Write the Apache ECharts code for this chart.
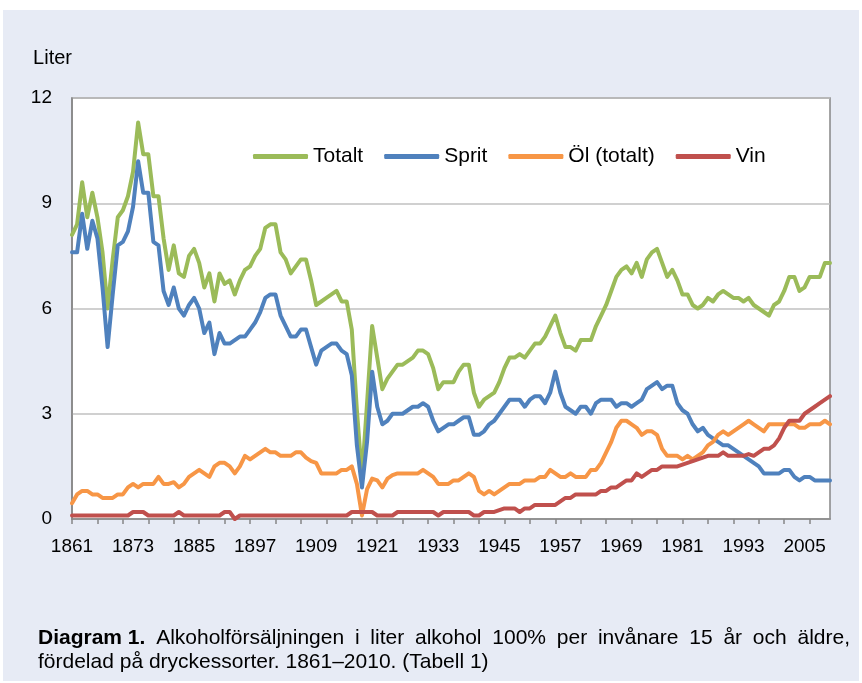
<!DOCTYPE html>
<html>
<head>
<meta charset="utf-8">
<script src="https://cdn.jsdelivr.net/npm/echarts@6/dist/echarts.min.js"></script>
<style>
  body { margin: 0; background: #fff; }
  #panel { position: absolute; left: 3px; top: 10px; width: 856px; height: 671px; background: #e7ebf5; }
  #chart { position: absolute; left: 0; top: 0; width: 862px; height: 683px; }
</style>
</head>
<body>
<div id="panel"></div>
<div id="chart"></div>
<script>
// år 1861-2010
const firstYear = 1861, lastYear = 2010;
const years = [];
for (let y = firstYear; y <= lastYear; y++) years.push(String(y));

// liter ren alkohol per invånare 15+
const totalt = [
  8.1, 8.4, 9.6, 8.6, 9.3, 8.6, 7.6, 6.0, 7.4, 8.6,
  8.8, 9.2, 9.9, 11.3, 10.4, 10.4, 9.2, 9.2, 8.0, 7.1,
  7.8, 7.0, 6.9, 7.5, 7.7, 7.3, 6.6, 7.0, 6.2, 7.0,
  6.7, 6.8, 6.4, 6.8, 7.1, 7.2, 7.5, 7.7, 8.3, 8.4,
  8.4, 7.6, 7.4, 7.0, 7.2, 7.4, 7.4, 6.8, 6.1, 6.2,
  6.3, 6.4, 6.5, 6.2, 6.2, 5.4, 3.1, 1.2, 3.3, 5.5,
  4.6, 3.7, 4.0, 4.2, 4.4, 4.4, 4.5, 4.6, 4.8, 4.8,
  4.7, 4.3, 3.7, 3.9, 3.9, 3.9, 4.2, 4.4, 4.4, 3.6,
  3.2, 3.4, 3.5, 3.6, 3.9, 4.3, 4.6, 4.6, 4.7, 4.6,
  4.8, 5.0, 5.0, 5.2, 5.5, 5.8, 5.3, 4.9, 4.9, 4.8,
  5.1, 5.1, 5.1, 5.5, 5.8, 6.1, 6.5, 6.9, 7.1, 7.2,
  7.0, 7.3, 6.9, 7.4, 7.6, 7.7, 7.3, 6.9, 7.1, 6.8,
  6.4, 6.4, 6.1, 6.0, 6.1, 6.3, 6.2, 6.4, 6.5, 6.4,
  6.3, 6.3, 6.2, 6.3, 6.1, 6.0, 5.9, 5.8, 6.1, 6.2,
  6.5, 6.9, 6.9, 6.5, 6.6, 6.9, 6.9, 6.9, 7.3, 7.3
];
const sprit = [
  7.6, 7.6, 8.7, 7.7, 8.5, 8.0, 6.6, 4.9, 6.4, 7.8,
  7.9, 8.2, 8.9, 10.2, 9.3, 9.3, 7.9, 7.8, 6.5, 6.1,
  6.6, 6.0, 5.8, 6.1, 6.3, 6.0, 5.3, 5.6, 4.7, 5.3,
  5.0, 5.0, 5.1, 5.2, 5.2, 5.4, 5.6, 5.9, 6.3, 6.4,
  6.4, 5.8, 5.5, 5.2, 5.2, 5.4, 5.4, 4.9, 4.4, 4.8,
  4.9, 5.0, 5.0, 4.8, 4.7, 4.1, 2.1, 0.9, 2.2, 4.2,
  3.2, 2.7, 2.8, 3.0, 3.0, 3.0, 3.1, 3.2, 3.2, 3.3,
  3.2, 2.8, 2.5, 2.6, 2.7, 2.7, 2.8, 2.9, 2.9, 2.4,
  2.4, 2.5, 2.7, 2.8, 3.0, 3.2, 3.4, 3.4, 3.4, 3.2,
  3.4, 3.5, 3.5, 3.3, 3.6, 4.2, 3.6, 3.2, 3.1, 3.0,
  3.2, 3.2, 3.0, 3.3, 3.4, 3.4, 3.4, 3.2, 3.3, 3.3,
  3.2, 3.3, 3.4, 3.7, 3.8, 3.9, 3.7, 3.8, 3.8, 3.3,
  3.1, 3.0, 2.7, 2.5, 2.6, 2.4, 2.3, 2.2, 2.1, 2.1,
  2.0, 1.9, 1.8, 1.7, 1.6, 1.5, 1.3, 1.3, 1.3, 1.3,
  1.4, 1.4, 1.2, 1.1, 1.2, 1.2, 1.1, 1.1, 1.1, 1.1
];
const ol = [
  0.45, 0.7, 0.8, 0.8, 0.7, 0.7, 0.6, 0.6, 0.6, 0.7,
  0.7, 0.9, 1.0, 0.9, 1.0, 1.0, 1.0, 1.2, 1.0, 1.0,
  1.05, 0.9, 1.0, 1.2, 1.3, 1.4, 1.3, 1.2, 1.5, 1.6,
  1.6, 1.5, 1.3, 1.5, 1.8, 1.7, 1.8, 1.9, 2.0, 1.9,
  1.9, 1.8, 1.8, 1.8, 1.9, 1.9, 1.75, 1.65, 1.6, 1.3,
  1.3, 1.3, 1.3, 1.4, 1.4, 1.5, 1.0, 0.1, 0.85, 1.15,
  1.1, 0.9, 1.15, 1.25, 1.3, 1.3, 1.3, 1.3, 1.3, 1.4,
  1.3, 1.2, 1.0, 1.0, 1.0, 1.1, 1.1, 1.2, 1.3, 1.2,
  0.8, 0.7, 0.8, 0.7, 0.8, 0.9, 1.0, 1.0, 1.0, 1.1,
  1.1, 1.1, 1.2, 1.2, 1.4, 1.3, 1.2, 1.2, 1.3, 1.2,
  1.2, 1.2, 1.4, 1.4, 1.6, 1.9, 2.2, 2.6, 2.8, 2.8,
  2.7, 2.6, 2.4, 2.5, 2.5, 2.4, 2.0, 1.8, 1.8, 1.8,
  1.7, 1.8, 1.7, 1.8, 1.9, 2.1, 2.2, 2.4, 2.5, 2.4,
  2.5, 2.6, 2.7, 2.8, 2.7, 2.6, 2.5, 2.7, 2.7, 2.7,
  2.7, 2.7, 2.7, 2.6, 2.6, 2.7, 2.7, 2.7, 2.8, 2.7
];
const vin = [
  0.1, 0.1, 0.1, 0.1, 0.1, 0.1, 0.1, 0.1, 0.1, 0.1,
  0.1, 0.1, 0.2, 0.2, 0.2, 0.1, 0.1, 0.1, 0.1, 0.1,
  0.1, 0.2, 0.1, 0.1, 0.1, 0.1, 0.1, 0.1, 0.1, 0.1,
  0.2, 0.2, 0.0, 0.1, 0.1, 0.1, 0.1, 0.1, 0.1, 0.1,
  0.1, 0.1, 0.1, 0.1, 0.1, 0.1, 0.1, 0.1, 0.1, 0.1,
  0.1, 0.1, 0.1, 0.1, 0.1, 0.2, 0.2, 0.2, 0.2, 0.2,
  0.1, 0.1, 0.1, 0.1, 0.2, 0.2, 0.2, 0.2, 0.2, 0.2,
  0.2, 0.2, 0.1, 0.2, 0.2, 0.2, 0.2, 0.2, 0.2, 0.1,
  0.1, 0.2, 0.2, 0.2, 0.25, 0.3, 0.3, 0.3, 0.2, 0.3,
  0.3, 0.4, 0.4, 0.4, 0.4, 0.4, 0.5, 0.6, 0.6, 0.7,
  0.7, 0.7, 0.7, 0.7, 0.8, 0.8, 0.9, 0.9, 1.0, 1.1,
  1.1, 1.3, 1.2, 1.3, 1.4, 1.4, 1.5, 1.5, 1.5, 1.5,
  1.55, 1.6, 1.65, 1.7, 1.75, 1.8, 1.8, 1.8, 1.9, 1.8,
  1.8, 1.8, 1.8, 1.85, 1.8, 1.9, 2.0, 2.0, 2.1, 2.3,
  2.6, 2.8, 2.8, 2.8, 3.0, 3.1, 3.2, 3.3, 3.4, 3.5
];

const yTicks = [0, 3, 6, 9, 12];
const seriesNames = ['Totalt', 'Sprit', 'Öl (totalt)', 'Vin'];
const seriesColors = ['#9bbb59', '#4f81bd', '#f79646', '#c0504d'];
const seriesData = [totalt, sprit, ol, vin];

const font = "'Liberation Sans', Arial, Helvetica, sans-serif";

// bildtext, första raden utfylld (justerad) till 812 px
const capBold = 'Diagram 1.';
const capLine1 = 'Alkoholförsäljningen i liter alkohol 100% per invånare 15 år och äldre,';
const capLine2 = 'fördelad på dryckessorter. 1861–2010. (Tabell 1)';
const capSize = 21, capWidth = 812;

const ctx = document.createElement('canvas').getContext('2d');
ctx.font = 'bold ' + capSize + 'px ' + font;
let used = ctx.measureText(capBold).width;
ctx.font = capSize + 'px ' + font;
const words = capLine1.split(' ');
words.forEach(w => { used += ctx.measureText(w).width; });
const spaceW = Math.max(4, (capWidth - used) / words.length);
const line1 = '{b|' + capBold + '}{s| }' + words.join('{s| }');

var myChart = echarts.init(document.getElementById('chart'));
myChart.setOption({
  backgroundColor: 'transparent',
  animation: false,
  textStyle: { fontFamily: font },
  title: {
    left: 38,
    top: 626,
    padding: 0,
    text: line1 + '\n' + capLine2,
    textStyle: {
      fontSize: capSize, fontWeight: 'normal', color: '#000', lineHeight: 24, fontFamily: font,
      rich: {
        b: { fontSize: capSize, fontWeight: 'bold', color: '#000', lineHeight: 24, fontFamily: font },
        s: { fontSize: capSize, width: spaceW, lineHeight: 24, fontFamily: font }
      }
    }
  },
  legend: {
    data: seriesNames,
    left: 253,
    top: 146,
    padding: 0,
    icon: 'roundRect',
    itemWidth: 55,
    itemHeight: 5,
    itemGap: 21,
    textStyle: { fontSize: 21, color: '#000', fontFamily: font }
  },
  grid: {
    show: true,
    left: 72, top: 98, width: 758, height: 421,
    backgroundColor: '#fff',
    borderColor: '#868686',
    borderWidth: 1.5
  },
  xAxis: {
    type: 'category',
    boundaryGap: false,
    data: years,
    axisLine: { lineStyle: { color: '#868686', width: 1.5 } },
    axisTick: { interval: 4, length: 5, lineStyle: { color: '#868686', width: 1.5 } },
    axisLabel: { interval: 11, fontSize: 19, color: '#000', margin: 18, fontFamily: font },
    splitLine: { show: false }
  },
  yAxis: {
    type: 'value',
    min: yTicks[0],
    max: yTicks[yTicks.length - 1],
    interval: 3,
    name: 'Liter',
    nameLocation: 'end',
    nameGap: 40,
    nameTextStyle: { fontSize: 20, color: '#000', align: 'right', verticalAlign: 'middle', fontFamily: font },
    axisLine: { show: true, lineStyle: { color: '#868686', width: 1.5 } },
    axisTick: { show: false },
    axisLabel: { fontSize: 19, color: '#000', margin: 20, fontFamily: font },
    splitLine: { lineStyle: { color: '#c0c0c0', width: 1.5 } }
  },
  series: seriesNames.map((name, k) => ({
    name: name,
    type: 'line',
    data: seriesData[k],
    showSymbol: false,
    symbol: 'none',
    color: seriesColors[k],
    lineStyle: { width: 4, color: seriesColors[k], cap: 'round', join: 'round' }
  }))
});
</script>
</body>
</html>
